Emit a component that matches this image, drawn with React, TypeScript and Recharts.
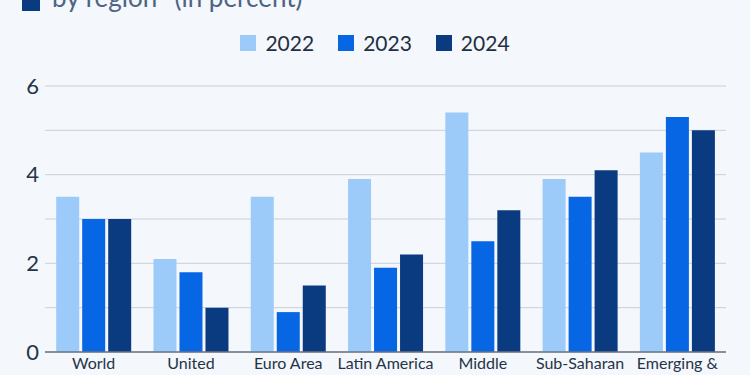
import React from 'react';
import { Bar, BarChart, CartesianGrid, XAxis, YAxis } from 'recharts';

const regions = [
  'World',
  'United\nStates',
  'Euro Area',
  'Latin America',
  'Middle\nEast & Central Asia',
  'Sub-Saharan\nAfrica',
  'Emerging &\nDeveloping Asia',
];
const growth2022 = [3.5, 2.1, 3.5, 3.9, 5.4, 3.9, 4.5];
const growth2023 = [3.0, 1.8, 0.9, 1.9, 2.5, 3.5, 5.3];
const growth2024 = [3.0, 1.0, 1.5, 2.2, 3.2, 4.1, 5.0];
const yTicks = [0, 1, 2, 3, 4, 5, 6];

const SERIES = [
  { key: '2022', color: '#9ccbfa' },
  { key: '2023', color: '#0766e4' },
  { key: '2024', color: '#0a3a7f' },
];

const FONT = 'Lato, "Noto Sans", sans-serif';

const data = regions.map((name, i) => ({
  name,
  '2022': growth2022[i],
  '2023': growth2023[i],
  '2024': growth2024[i],
}));

const RegionTick = (props: any) => {
  const { x, y, payload } = props;
  const lines = String(payload.value).split('\n');
  return (
    <text x={x} y={y + 9} textAnchor="middle" fill="#243447" fontSize={16} fontFamily={FONT}>
      {lines.map((l, i) => (
        <tspan key={i} x={x} dy={i === 0 ? 0 : 19}>
          {l}
        </tspan>
      ))}
    </text>
  );
};

export default function App() {
  return (
    <div
      style={{
        position: 'absolute',
        left: 0,
        top: 0,
        width: 750,
        height: 375,
        overflow: 'hidden',
        background: '#f4f7fb',
      }}
    >
      <div style={{ position: 'absolute', left: 22, top: -2, width: 18, height: 13, background: '#0a3a7f' }} />
      <div
        style={{
          position: 'absolute',
          left: 52,
          top: -19,
          fontFamily: FONT,
          fontSize: 26,
          color: '#4d6585',
          whiteSpace: 'nowrap',
        }}
      >
        by region* (in percent)
      </div>
      <div
        style={{
          position: 'absolute',
          top: 30,
          left: 0,
          width: 750,
          display: 'flex',
          justifyContent: 'center',
          gap: 24,
          fontFamily: FONT,
        }}
      >
        {SERIES.map((s) => (
          <div key={s.key} style={{ display: 'flex', alignItems: 'center', gap: 9 }}>
            <span style={{ width: 16, height: 16, background: s.color, display: 'inline-block' }} />
            <span style={{ fontSize: 21, color: '#1f2f44' }}>{s.key}</span>
          </div>
        ))}
      </div>
      <div style={{ position: 'absolute', left: 0, top: 0 }}>
        <BarChart
          width={750}
          height={375}
          data={data}
          margin={{ top: 86, right: 24, bottom: 0, left: 0 }}
          barCategoryGap="11.5%"
          barGap={3}
        >
          <CartesianGrid vertical={false} stroke="#cad0d8" strokeWidth={1} />
          <XAxis
            dataKey="name"
            interval={0}
            height={23}
            tickLine={false}
            axisLine={{ stroke: '#6b7380', strokeWidth: 1.5 }}
            tick={<RegionTick />}
          />
          <YAxis
            width={45}
            domain={[0, 6]}
            ticks={yTicks}
            interval={0}
            axisLine={false}
            tickLine={false}
            tickSize={0}
            tickMargin={6}
            tickFormatter={(v: number) => (v % 2 === 0 ? String(v) : '')}
            tick={{ fill: '#243447', fontSize: 22, fontFamily: FONT }}
          />
          {SERIES.map((s) => (
            <Bar key={s.key} dataKey={s.key} fill={s.color} isAnimationActive={false} />
          ))}
        </BarChart>
      </div>
    </div>
  );
}
